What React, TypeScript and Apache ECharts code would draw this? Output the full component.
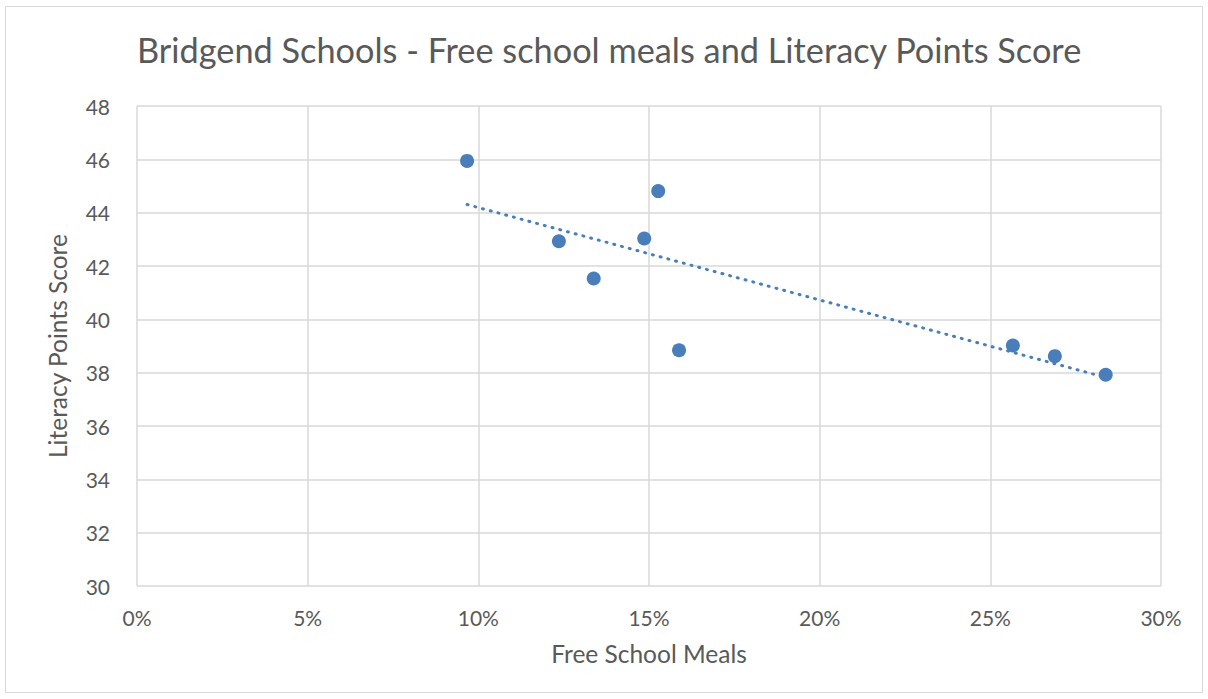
import React, { useEffect, useRef } from "react";
import * as echarts from "echarts";

const titleText = "Bridgend Schools - Free school meals and Literacy Points Score";
const xAxisName = "Free School Meals";
const yAxisName = "Literacy Points Score";

// Free school meals share (fraction) per school
const freeSchoolMeals = [0.0967, 0.1236, 0.1338, 0.1486, 0.1527, 0.1588, 0.2566, 0.2689, 0.2838];
// Literacy points score per school
const literacyScores = [45.94, 42.93, 41.53, 43.03, 44.81, 38.84, 39.02, 38.62, 37.92];

const xMin = 0, xMax = 0.3, xStep = 0.05;
const yMin = 30, yMax = 48, yStep = 2;

function linearFit(xs: number[], ys: number[]) {
  const n = xs.length;
  const mx = xs.reduce((a, b) => a + b, 0) / n;
  const my = ys.reduce((a, b) => a + b, 0) / n;
  let sxy = 0, sxx = 0;
  for (let i = 0; i < n; i++) {
    sxy += (xs[i] - mx) * (ys[i] - my);
    sxx += (xs[i] - mx) * (xs[i] - mx);
  }
  const slope = sxy / sxx;
  return { slope, intercept: my - slope * mx };
}

export default function App() {
  const ref = useRef<HTMLDivElement>(null);
  useEffect(() => {
    if (!ref.current) return;
    const chart = echarts.init(ref.current, undefined, { renderer: "svg" });
    const pts = freeSchoolMeals.map((x, i) => [x, literacyScores[i]]);
    const fit = linearFit(freeSchoolMeals, literacyScores);
    const lo = Math.min(...freeSchoolMeals);
    const hi = Math.max(...freeSchoolMeals);
    const trend = [
      [lo, fit.intercept + fit.slope * lo],
      [hi, fit.intercept + fit.slope * hi],
    ];
    const font = "Lato, 'Open Sans', sans-serif";
    const txt = "#595959";
    const gridColor = "#d9d9d9";
    const blue = "#4a7ebb";
    chart.setOption({
      animation: false,
      backgroundColor: "#ffffff",
      textStyle: { fontFamily: font },
      graphic: [
        {
          type: "rect",
          shape: { x: 5.5, y: 6.5, width: 1197, height: 686 },
          style: { fill: "none", stroke: gridColor, lineWidth: 1 },
          silent: true,
        },
      ],
      title: {
        text: titleText,
        left: 132,
        top: 27,
        textStyle: { fontFamily: font, fontSize: 34.3, fontWeight: "normal", color: txt },
      },
      grid: { left: 137, right: 47, top: 106, bottom: 113, containLabel: false },
      xAxis: {
        type: "value",
        min: xMin,
        max: xMax,
        interval: xStep,
        name: xAxisName,
        nameLocation: "middle",
        nameGap: 55,
        nameTextStyle: { fontFamily: font, fontSize: 24.5, color: txt },
        axisLine: { show: false },
        axisTick: { show: false },
        splitLine: { show: true, lineStyle: { color: gridColor, width: 1.5 } },
        axisLabel: {
          color: txt,
          fontFamily: font,
          fontSize: 21,
          margin: 21,
          formatter: (v: number) => `${Math.round(v * 100)}%`,
        },
      },
      yAxis: {
        type: "value",
        min: yMin,
        max: yMax,
        interval: yStep,
        name: yAxisName,
        nameLocation: "middle",
        nameGap: 67,
        nameTextStyle: { fontFamily: font, fontSize: 24.5, color: txt },
        axisLine: { show: false },
        axisTick: { show: false },
        splitLine: { show: true, lineStyle: { color: gridColor, width: 1.5 } },
        axisLabel: { color: txt, fontFamily: font, fontSize: 21, margin: 27 },
      },
      series: [
        {
          type: "line",
          data: trend,
          showSymbol: false,
          symbol: "none",
          lineStyle: { color: blue, width: 3, type: [1, 7], cap: "round" },
          silent: true,
          z: 2,
        },
        {
          type: "scatter",
          data: pts,
          symbolSize: 14,
          itemStyle: { color: blue, opacity: 1 },
          z: 3,
        },
      ],
    });
    return () => chart.dispose();
  }, []);
  return (
    <div
      ref={ref}
      style={{ position: "absolute", left: 0, top: 0, width: 1208, height: 699 }}
    />
  );
}
